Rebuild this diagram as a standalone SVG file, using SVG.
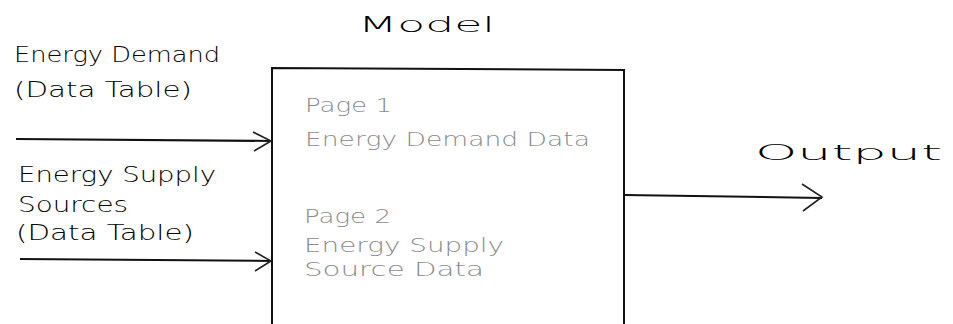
<svg xmlns="http://www.w3.org/2000/svg" width="953" height="324" viewBox="0 0 953 324">
<style>
.lbl{font-family:"DejaVu Sans","Liberation Sans",sans-serif;font-weight:200;fill:#000;font-size:21px}
.gry{font-family:"DejaVu Sans","Liberation Sans",sans-serif;font-weight:200;fill:#8c8c8c;font-size:19px}
.ln{stroke:#111;stroke-width:2;fill:none}
.hd{stroke:#222;stroke-width:1.6;fill:none}
</style>
<rect width="953" height="324" fill="#fff"/>
<g id="model">
<path class="ln" d="M272 324 V68 L624 70 V324"/>
<text class="lbl" x="358" y="32" font-size="23" textLength="137" lengthAdjust="spacingAndGlyphs">Model</text>
<text class="gry" x="305" y="112" textLength="87" lengthAdjust="spacingAndGlyphs">Page 1</text>
<text class="gry" x="305" y="146" textLength="285" lengthAdjust="spacingAndGlyphs">Energy Demand Data</text>
<text class="gry" x="304" y="223" textLength="87" lengthAdjust="spacingAndGlyphs">Page 2</text>
<text class="gry" x="304" y="252" textLength="200" lengthAdjust="spacingAndGlyphs">Energy Supply</text>
<text class="gry" x="304" y="276" textLength="180" lengthAdjust="spacingAndGlyphs">Source Data</text>
</g>
<g id="input-demand">
<text class="lbl" x="14" y="62" textLength="206" lengthAdjust="spacingAndGlyphs">Energy Demand</text>
<text class="lbl" x="14" y="97" textLength="178" lengthAdjust="spacingAndGlyphs">(Data Table)</text>
</g>
<g id="input-supply">
<text class="lbl" x="18" y="182" textLength="198" lengthAdjust="spacingAndGlyphs">Energy Supply</text>
<text class="lbl" x="18" y="212" textLength="110" lengthAdjust="spacingAndGlyphs">Sources</text>
<text class="lbl" x="16" y="240" textLength="178" lengthAdjust="spacingAndGlyphs">(Data Table)</text>
</g>
<g id="output">
<text class="lbl" x="755" y="160" font-size="24" textLength="187" lengthAdjust="spacingAndGlyphs">Output</text>
</g>
<g id="connectors">
<path class="ln" d="M16 139 L272 141"/>
<path class="hd" d="M253 132 L271 141 L254 151"/>
<path class="ln" d="M20 259 L272 261"/>
<path class="hd" d="M255 252 L271 261 L255 271"/>
<path class="ln" d="M624 195 L822 198"/>
<path class="hd" d="M802 184 L822 197 L803 211"/>
</g>
</svg>
